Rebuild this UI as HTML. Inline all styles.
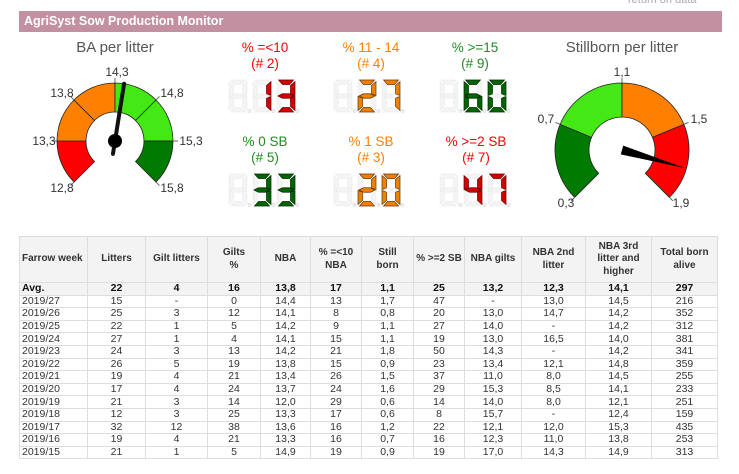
<!DOCTYPE html>
<html><head><meta charset="utf-8">
<style>
body{margin:0;width:739px;height:474px;background:#fff;position:relative;overflow:hidden;font-family:"Liberation Sans",Arial,sans-serif}
#hdr{position:absolute;left:19px;top:11px;width:703px;height:21px;background:#c290a1;color:#fff;font-weight:bold;font-size:12.5px;line-height:21px;padding-left:5px;box-sizing:border-box}
#ret{position:absolute;left:628px;top:-6px;font-size:11px;color:#aaa}
svg{position:absolute;left:0;top:0}
table{position:absolute;left:19px;top:236px;width:698px;border-collapse:collapse;table-layout:fixed;font-size:10.5px;color:#333;border:1px solid #444}
td,th{border:1px solid #ddd;padding:0 2px;text-align:center;height:11.6px;line-height:11px;white-space:nowrap;overflow:hidden}
th{font-size:10px;font-weight:bold;background:#f3f3f3;height:45px;line-height:12.5px;white-space:normal;color:#333}
th:first-child,td:first-child{text-align:left}
tr.avg td{font-weight:bold;background:#f3f3f3;color:#111}
</style></head><body>
<div id="ret">return on data</div>
<div id="hdr">AgriSyst Sow Production Monitor</div>
<svg id="s" width="739" height="474" font-family="Liberation Sans, Arial, sans-serif"></svg>
<table>
<colgroup><col style="width:68px"><col style="width:58px"><col style="width:62px"><col style="width:53px"><col style="width:50px"><col style="width:51px"><col style="width:52px"><col style="width:51px"><col style="width:57px"><col style="width:64px"><col style="width:66px"><col style="width:66px"></colgroup>
<tr><th>Farrow week</th><th>Litters</th><th>Gilt litters</th><th>Gilts<br>%</th><th>NBA</th><th>% =&lt;10<br>NBA</th><th>Still<br>born</th><th>% &gt;=2 SB</th><th>NBA gilts</th><th>NBA 2nd<br>litter</th><th>NBA 3rd<br>litter and<br>higher</th><th>Total born<br>alive</th></tr>
<tr class="avg"><td>Avg.</td><td>22</td><td>4</td><td>16</td><td>13,8</td><td>17</td><td>1,1</td><td>25</td><td>13,2</td><td>12,3</td><td>14,1</td><td>297</td></tr>
<tr><td>2019/27</td><td>15</td><td>-</td><td>0</td><td>14,4</td><td>13</td><td>1,7</td><td>47</td><td>-</td><td>13,0</td><td>14,5</td><td>216</td></tr>
<tr><td>2019/26</td><td>25</td><td>3</td><td>12</td><td>14,1</td><td>8</td><td>0,8</td><td>20</td><td>13,0</td><td>14,7</td><td>14,2</td><td>352</td></tr>
<tr><td>2019/25</td><td>22</td><td>1</td><td>5</td><td>14,2</td><td>9</td><td>1,1</td><td>27</td><td>14,0</td><td>-</td><td>14,2</td><td>312</td></tr>
<tr><td>2019/24</td><td>27</td><td>1</td><td>4</td><td>14,1</td><td>15</td><td>1,1</td><td>19</td><td>13,0</td><td>16,5</td><td>14,0</td><td>381</td></tr>
<tr><td>2019/23</td><td>24</td><td>3</td><td>13</td><td>14,2</td><td>21</td><td>1,8</td><td>50</td><td>14,3</td><td>-</td><td>14,2</td><td>341</td></tr>
<tr><td>2019/22</td><td>26</td><td>5</td><td>19</td><td>13,8</td><td>15</td><td>0,9</td><td>23</td><td>13,4</td><td>12,1</td><td>14,8</td><td>359</td></tr>
<tr><td>2019/21</td><td>19</td><td>4</td><td>21</td><td>13,4</td><td>26</td><td>1,5</td><td>37</td><td>11,0</td><td>8,0</td><td>14,5</td><td>255</td></tr>
<tr><td>2019/20</td><td>17</td><td>4</td><td>24</td><td>13,7</td><td>24</td><td>1,6</td><td>29</td><td>15,3</td><td>8,5</td><td>14,1</td><td>233</td></tr>
<tr><td>2019/19</td><td>21</td><td>3</td><td>14</td><td>12,0</td><td>29</td><td>0,6</td><td>14</td><td>14,0</td><td>8,0</td><td>12,1</td><td>251</td></tr>
<tr><td>2019/18</td><td>12</td><td>3</td><td>25</td><td>13,3</td><td>17</td><td>0,6</td><td>8</td><td>15,7</td><td>-</td><td>12,4</td><td>159</td></tr>
<tr><td>2019/17</td><td>32</td><td>12</td><td>38</td><td>13,6</td><td>16</td><td>1,2</td><td>22</td><td>12,1</td><td>12,0</td><td>15,3</td><td>435</td></tr>
<tr><td>2019/16</td><td>19</td><td>4</td><td>21</td><td>13,3</td><td>16</td><td>0,7</td><td>16</td><td>12,3</td><td>11,0</td><td>13,8</td><td>253</td></tr>
<tr><td>2019/15</td><td>21</td><td>1</td><td>5</td><td>14,9</td><td>19</td><td>0,9</td><td>19</td><td>17,0</td><td>14,3</td><td>14,9</td><td>313</td></tr>
</table>
<script>
var s=document.getElementById('s'),h='';
function P(cx,cy,r,t){t=t*Math.PI/180;return [cx+r*Math.sin(t),cy-r*Math.cos(t)];}
function seg(cx,cy,ro,ri,a,b,c){var p1=P(cx,cy,ro,a),p2=P(cx,cy,ro,b),p3=P(cx,cy,ri,b),p4=P(cx,cy,ri,a);
h+='<path d="M'+p1+' A'+ro+','+ro+' 0 0 1 '+p2+' L'+p3+' A'+ri+','+ri+' 0 0 0 '+p4+' Z" fill="'+c+'" stroke="#222" stroke-width="0.8"/>';}
function txt(x,y,t,c,sz,a){h+='<text x="'+x+'" y="'+y+'" fill="'+c+'" font-size="'+sz+'" text-anchor="'+(a||'middle')+'">'+t+'</text>';}
var G='#44e814',D='#007a00',O='#ff8000',R='#ff0000';
var lc=[115,141],lv=function(v){return -135+(v-12.8)/3*270};
[[12.8,13.3,R],[13.3,13.8,O],[13.8,14.3,O],[14.3,14.8,G],[14.8,15.3,G],[15.3,15.8,D]].forEach(function(q){seg(lc[0],lc[1],58,29,lv(q[0]),lv(q[1]),q[2]);});
[12.8,13.3,13.8,14.3,14.8,15.3,15.8].forEach(function(v){var a=P(lc[0],lc[1],58,lv(v)),b=P(lc[0],lc[1],63,lv(v));h+='<line x1="'+a[0]+'" y1="'+a[1]+'" x2="'+b[0]+'" y2="'+b[1]+'" stroke="#666" stroke-width="1"/>';});
var t=P(lc[0],lc[1],58,9),tl=P(lc[0],lc[1],-13,9);
h+='<line x1="'+tl[0]+'" y1="'+tl[1]+'" x2="'+t[0]+'" y2="'+t[1]+'" stroke="#111" stroke-width="4" stroke-linecap="round"/><circle cx="115" cy="141" r="7" fill="#000"/>';
txt(115,52,'BA per litter','#555',15);
txt(117,76,'14,3','#333',12);txt(62,97,'13,8','#333',12);txt(172,97,'14,8','#333',12);
txt(44,145,'13,3','#333',12);txt(191,145,'15,3','#333',12);txt(62,192,'12,8','#333',12);txt(172,192,'15,8','#333',12);
var rc=[622,150],rv=function(v){return -135+(v-0.3)/1.6*270};
[[0.3,0.7,D],[0.7,1.1,G],[1.1,1.5,O],[1.5,1.9,R]].forEach(function(q){seg(rc[0],rc[1],67,33,rv(q[0]),rv(q[1]),q[2]);});
[0.3,0.7,1.1,1.5,1.9].forEach(function(v){var a=P(rc[0],rc[1],67,rv(v)),b=P(rc[0],rc[1],72,rv(v));h+='<line x1="'+a[0]+'" y1="'+a[1]+'" x2="'+b[0]+'" y2="'+b[1]+'" stroke="#666" stroke-width="1"/>';});
var na=106,tp=P(rc[0],rc[1],66,na),b1=P(rc[0],rc[1],4.5,na-90),b2=P(rc[0],rc[1],4.5,na+90);
h+='<polygon points="'+tp+' '+b1+' '+b2+'" fill="#000"/>';
txt(622,52,'Stillborn per litter','#555',15);
txt(622,76,'1,1','#333',12);txt(546,123,'0,7','#333',12);txt(699,123,'1,5','#333',12);txt(566,207,'0,3','#333',12);txt(681,207,'1,9','#333',12);
var M={'0':'abcdef','1':'bc','2':'abged','3':'abgcd','4':'fgbc','5':'afgcd','6':'afgedc','7':'abc','8':'abcdefg','9':'abcdfg'};
function cell(x,y,d,fill,stroke){var w=18,H=32,k=4.5,m=H/2,o='';
var S={a:[[1.5,0],[w-1.5,0],[w-k-1,k],[k+1,k]],d:[[1.5,H],[w-1.5,H],[w-k-1,H-k],[k+1,H-k]],
f:[[0,1.5],[k,k+1],[k,m-2],[0,m-0.5]],e:[[0,m+0.5],[k,m+2],[k,H-k-1],[0,H-1.5]],
b:[[w,1.5],[w-k,k+1],[w-k,m-2],[w,m-0.5]],c:[[w,m+0.5],[w-k,m+2],[w-k,H-k-1],[w,H-1.5]],
g:[[1,m],[k+1,m-k/2],[w-k-1,m-k/2],[w-1,m],[w-k-1,m+k/2],[k+1,m+k/2]]};
for(var n in S){var on=d&&M[d].indexOf(n)>=0;o+='<polygon points="'+S[n].map(function(p){return (x+p[0])+','+(y+p[1]);}).join(' ')+'" fill="'+(on?fill:'#f4f4f4')+'" stroke="'+(on?stroke:'#e2e2e2')+'" stroke-width="0.7"'+(on?'':' stroke-dasharray="1,1"')+'/>';}
o+='<circle cx="'+(x+w+2.5)+'" cy="'+(y+H-1)+'" r="1.6" fill="#eee" stroke="#ddd" stroke-width="0.6"/>';h+=o;}
function disp(x,y,val,f,st){cell(x,y,null);cell(x+24,y,val[0],f,st);cell(x+48,y,val[1],f,st);}
var red=['#d40000','#600'],org=['#f08000','#6a3500'],grn=['#006400','#002800'];
disp(229,80,'13',red[0],red[1]);disp(334,80,'27',org[0],org[1]);disp(440,80,'60',grn[0],grn[1]);
disp(229,174,'33',grn[0],grn[1]);disp(334,174,'20',org[0],org[1]);disp(440,174,'47',red[0],red[1]);
txt(265,52,'% =&lt;10','#ff0000',13.5);txt(265,68,'(# 2)','#ff0000',13.5);
txt(371,52,'% 11 - 14','#ff8000',13.5);txt(371,68,'(# 4)','#ff8000',13.5);
txt(475,52,'% &gt;=15','#228b22',13.5);txt(475,68,'(# 9)','#228b22',13.5);
txt(265,146,'% 0 SB','#228b22',13.5);txt(265,162,'(# 5)','#228b22',13.5);
txt(371,146,'% 1 SB','#ff8000',13.5);txt(371,162,'(# 3)','#ff8000',13.5);
txt(476,146,'% &gt;=2 SB','#ff0000',13.5);txt(476,162,'(# 7)','#ff0000',13.5);
s.innerHTML=h;
</script>
</body></html>
